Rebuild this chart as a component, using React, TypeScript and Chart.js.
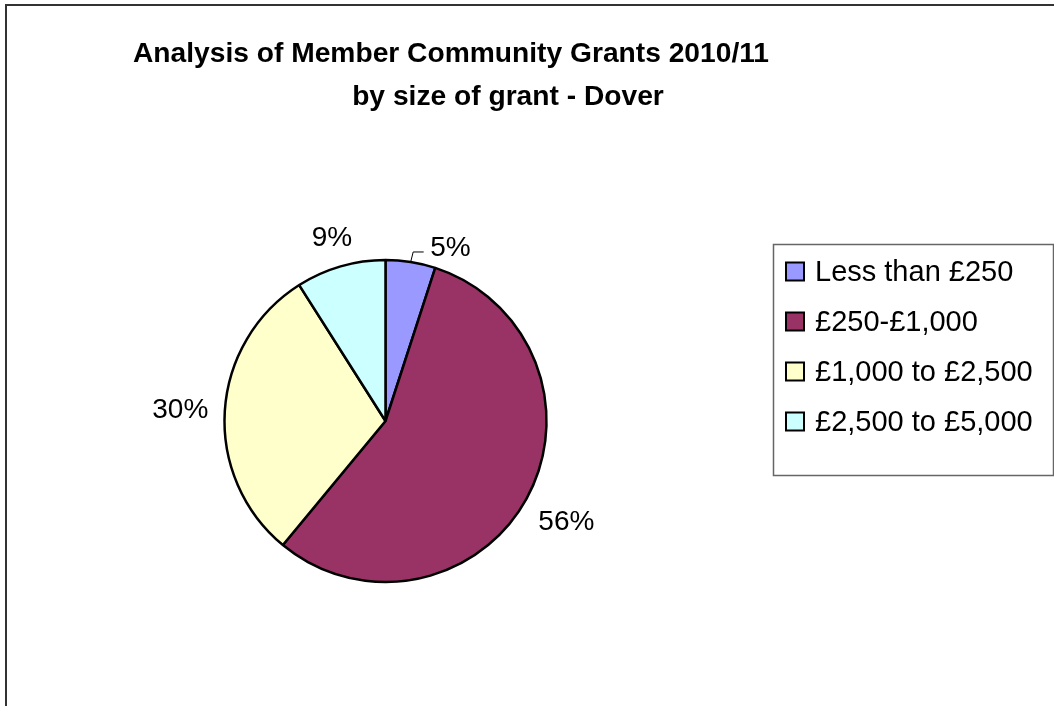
import React, { useEffect, useRef } from "react";
import { Chart, registerables } from "chart.js";

Chart.register(...registerables);

const categories = ["Less than £250", "£250-£1,000", "£1,000 to £2,500", "£2,500 to £5,000"];
const shares = [5, 56, 30, 9];
const sliceColors = ["#9999FF", "#993366", "#FFFFCC", "#CCFFFF"];
const titleLines = ["Analysis of Member Community Grants 2010/11", "by size of grant - Dover"];

const FONT = '"Liberation Sans", Arial, sans-serif';

const decorPlugin = {
  id: "decor",
  afterDraw(chart: any) {
    const ctx = chart.ctx as CanvasRenderingContext2D;
    ctx.save();
    // outer frame (right/bottom edges run off the page)
    ctx.strokeStyle = "#333333";
    ctx.lineWidth = 2;
    ctx.strokeRect(6, 5, 1100, 760);

    // title
    ctx.fillStyle = "#000000";
    ctx.font = `bold 28.2px ${FONT}`;
    ctx.textAlign = "center";
    ctx.textBaseline = "alphabetic";
    ctx.fillText(titleLines[0], 451, 62);
    ctx.fillText(titleLines[1], 508, 105);

    // data labels
    const meta = chart.getDatasetMeta(0);
    const values: number[] = chart.data.datasets[0].data;
    const total = values.reduce((a: number, b: number) => a + b, 0);
    ctx.font = `28px ${FONT}`;
    meta.data.forEach((arc: any, i: number) => {
      const p = arc.getProps(["x", "y", "startAngle", "endAngle", "outerRadius"], true);
      const mid = (p.startAngle + p.endAngle) / 2;
      const text = `${Math.round((values[i] / total) * 100)}%`;
      const w = ctx.measureText(text).width;
      const h = 20;
      if (values[i] / total < 0.06) {
        const ax = p.x + Math.cos(mid) * p.outerRadius;
        const ay = p.y + Math.sin(mid) * p.outerRadius;
        ctx.strokeStyle = "#000000";
        ctx.lineWidth = 1;
        ctx.beginPath();
        ctx.moveTo(ax, ay);
        ctx.lineTo(ax + 2.5, ay - 10);
        ctx.lineTo(ax + 13, ay - 10);
        ctx.stroke();
        ctx.textAlign = "left";
        ctx.textBaseline = "alphabetic";
        ctx.fillText(text, ax + 19.5, ay - 6);
      } else {
        const gap = 16;
        const dist = p.outerRadius + gap + Math.abs(Math.cos(mid)) * w / 2 + Math.abs(Math.sin(mid)) * h / 2;
        const cx = p.x + Math.cos(mid) * dist;
        const cy = p.y + Math.sin(mid) * dist;
        ctx.textAlign = "center";
        ctx.textBaseline = "alphabetic";
        ctx.fillText(text, cx, cy + 10);
      }
    });

    // legend
    ctx.strokeStyle = "#666666";
    ctx.lineWidth = 1.5;
    ctx.strokeRect(773.5, 244.5, 280, 231);
    const labels: string[] = chart.data.labels;
    const colors: string[] = chart.data.datasets[0].backgroundColor;
    ctx.font = `29px ${FONT}`;
    ctx.textAlign = "left";
    ctx.textBaseline = "alphabetic";
    labels.forEach((lab, i) => {
      const cy = 271.5 + i * 50;
      ctx.fillStyle = colors[i];
      ctx.fillRect(786, cy - 9, 18, 18);
      ctx.strokeStyle = "#000000";
      ctx.lineWidth = 2;
      ctx.strokeRect(786, cy - 9, 18, 18);
      ctx.fillStyle = "#000000";
      ctx.fillText(lab, 815, cy + 9);
    });
    ctx.restore();
  },
};

export default function App() {
  const ref = useRef<HTMLCanvasElement | null>(null);
  useEffect(() => {
    if (!ref.current) return;
    const chart = new Chart(ref.current, {
      type: "pie",
      data: {
        labels: categories,
        datasets: [
          {
            data: shares,
            backgroundColor: sliceColors,
            borderColor: "#000000",
            borderWidth: 2.5,
          },
        ],
      },
      options: {
        responsive: false,
        animation: false,
        radius: 161,
        layout: { padding: { left: 200, right: 483, top: 250, bottom: 114 } },
        plugins: {
          legend: { display: false },
          title: { display: false },
          tooltip: { enabled: false },
        },
        events: [],
      } as any,
      plugins: [decorPlugin],
    });
    return () => chart.destroy();
  }, []);
  return (
    <div style={{ position: "absolute", left: 0, top: 0, width: 1054, height: 706, background: "#ffffff" }}>
      <canvas ref={ref} width={1054} height={706} style={{ display: "block", width: 1054, height: 706 }} />
    </div>
  );
}
